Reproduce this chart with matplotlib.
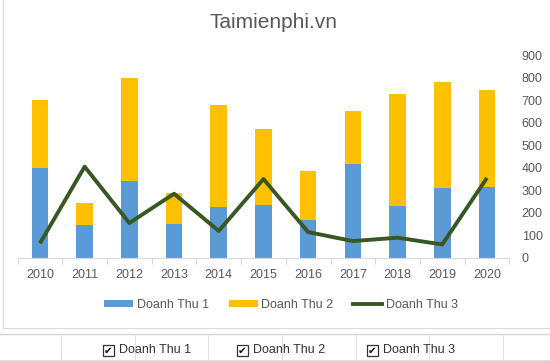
import matplotlib
matplotlib.use("Agg")
import matplotlib.pyplot as plt
from matplotlib.patches import Patch, Rectangle
from matplotlib.lines import Line2D
import numpy as np

plt.rcParams['font.family'] = ['Liberation Sans', 'DejaVu Sans']

years = ["2010", "2011", "2012", "2013", "2014", "2015", "2016", "2017", "2018", "2019", "2020"]
doanh_thu_1 = [400, 145, 340, 150, 225, 235, 170, 415, 230, 310, 315]
doanh_thu_2 = [300, 100, 460, 140, 455, 335, 215, 235, 495, 470, 430]
doanh_thu_3 = [65, 405, 155, 285, 120, 350, 115, 75, 90, 60, 355]
y_ticks = [0, 100, 200, 300, 400, 500, 600, 700, 800, 900]
series_names = ["Doanh Thu 1", "Doanh Thu 2", "Doanh Thu 3"]

BLUE = "#5B9BD5"
YELLOW = "#FFC000"
GREEN = "#385723"
TXT = "#595959"
GRID = "#d9d9d9"

W, H = 550, 361
fig = plt.figure(figsize=(W / 100, H / 100), dpi=100)

def fx(px):
    return px / W

def fy(py):
    return 1 - py / H

ax = fig.add_axes([fx(17.6), fy(258), fx(509.3 - 17.6), (258 - 55) / H])
x = np.arange(len(years))
ax.bar(x, doanh_thu_1, width=0.37, color=BLUE, zorder=2)
ax.bar(x, doanh_thu_2, width=0.37, bottom=doanh_thu_1, color=YELLOW, zorder=2)
ax.plot(x, doanh_thu_3, color=GREEN, linewidth=2.8, zorder=3, solid_capstyle='butt')

ax.set_xlim(-0.5, len(years) - 0.5)
ax.set_ylim(0, 900)
ax.yaxis.tick_right()
ax.set_yticks(y_ticks)
ax.set_yticklabels([str(v) for v in y_ticks])
ax.tick_params(axis='y', length=0, pad=9, labelsize=9, labelcolor=TXT)
ax.set_xticks(x)
ax.set_xticklabels(years)
ax.tick_params(axis='x', which='major', length=0, pad=8, labelsize=9, labelcolor=TXT)
ax.set_xticks(np.arange(-0.5, len(years), 1.0), minor=True)
ax.tick_params(axis='x', which='minor', length=4, color=GRID, width=0.8)
for s in ['top', 'left', 'right']:
    ax.spines[s].set_visible(False)
ax.spines['bottom'].set_color(GRID)
ax.spines['bottom'].set_linewidth(0.8)
ax.set_facecolor('none')

fig.text(fx(274), fy(22), "Taimienphi.vn", ha='center', va='center', fontsize=15, color=TXT)

handles = [Patch(facecolor=BLUE, edgecolor='none'),
           Patch(facecolor=YELLOW, edgecolor='none'),
           Line2D([0], [0], color=GREEN, linewidth=2.8)]
fig.legend(handles, series_names, loc='center', bbox_to_anchor=(fx(281), fy(305)),
           ncol=3, frameon=False, fontsize=9, labelcolor=TXT, handlelength=2.3,
           handletextpad=0.3, columnspacing=1.6, handleheight=0.55)

# chart border and sheet grid
fig.add_artist(Line2D([fx(3), fx(3)], [fy(0), fy(328)], color=GRID, linewidth=0.8))
fig.add_artist(Line2D([fx(3), fx(550)], [fy(328), fy(328)], color=GRID, linewidth=0.8))
fig.add_artist(Line2D([fx(0), fx(550)], [fy(334), fy(334)], color="#d4d4d4", linewidth=1.0))
fig.add_artist(Line2D([fx(0), fx(550)], [fy(360), fy(360)], color="#e0e0e0", linewidth=0.8))
for cx in [61, 135, 208, 282, 356, 429, 503]:
    fig.add_artist(Line2D([fx(cx), fx(cx)], [fy(334), fy(361)], color="#e0e0e0", linewidth=0.8))

for bx, name in zip([103, 237, 367], series_names):
    fig.add_artist(Rectangle((fx(bx), fy(356)), fx(11), 11 / H, facecolor='white',
                             edgecolor='#333333', linewidth=0.9))
    fig.text(fx(bx + 5.5), fy(350.5), "\u2714", ha='center', va='center', fontsize=7.5,
             color='#111111', family=['DejaVu Sans'])
    fig.text(fx(bx + 16), fy(350), name, ha='left', va='center', fontsize=9, color='#333333')

fig.savefig("out.png", dpi=100)
